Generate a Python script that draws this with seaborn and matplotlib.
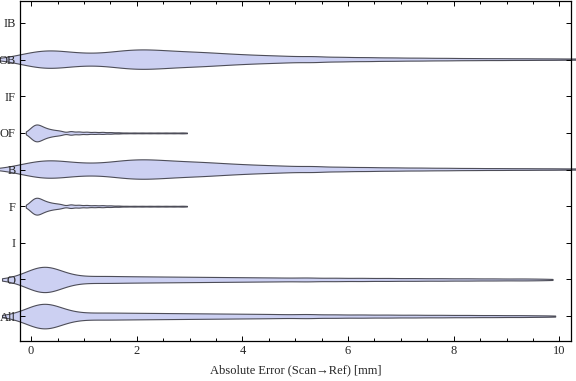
import numpy as np
import pandas as pd
import matplotlib
matplotlib.use('Agg')
import matplotlib.pyplot as plt
from matplotlib.ticker import MultipleLocator
import seaborn as sns

# categories top to bottom (I, IF, IB have no data)
groups = ['IB', 'OB', 'IF', 'OF', 'B', 'F', 'I', 'O', 'All']

# error values (mm) and how often they occur
all_vals = [-0.55, -0.4, -0.3, -0.2, -0.1, 0.0, 0.1, 0.2, 0.3, 0.4, 0.5, 0.6, 0.7, 0.8, 0.9, 1.0, 1.1, 1.2,
            1.375, 1.625, 1.875, 2.125, 2.375, 2.625, 2.875, 3.125, 3.375, 3.625, 3.875, 4.125, 4.375, 4.625, 4.875,
            5.25, 5.75, 6.25, 6.75, 7.25, 7.75, 8.25, 8.75, 9.25, 9.7, 9.92]
all_counts = [2, 2, 4, 8, 12, 17, 24, 30, 30, 24, 17, 12, 9, 7, 6, 6, 6, 6,
              16, 15, 15, 14, 14, 13, 13, 12, 12, 11, 11, 10, 10, 9, 9,
              17, 15, 14, 13, 12, 11, 10, 9, 8, 5, 2]

o_vals = [-0.55, -0.4, -0.3, -0.2, -0.1, 0.0, 0.1, 0.2, 0.3, 0.4, 0.5, 0.6, 0.7, 0.8, 0.9, 1.0, 1.1, 1.2,
          1.375, 1.625, 1.875, 2.125, 2.375, 2.625, 2.875, 3.125, 3.375, 3.625, 3.875, 4.125, 4.375, 4.625, 4.875,
          5.25, 5.75, 6.25, 6.75, 7.25, 7.75, 8.25, 8.75, 9.25, 9.65, 9.87]
o_counts = [2, 2, 4, 8, 12, 18, 25, 31, 31, 25, 18, 12, 9, 7, 6, 6, 6, 6,
            16, 15, 14, 14, 13, 13, 12, 12, 11, 11, 10, 10, 9, 9, 9,
            16, 15, 14, 13, 12, 11, 10, 9, 8, 5, 2]

b_vals = [-0.6, -0.5, -0.25, 0.0, 0.25, 0.5, 0.75, 1.0, 1.25, 1.5, 1.75, 2.0, 2.25, 2.5, 2.75, 3.0, 3.25,
          3.5, 3.75, 4.0, 4.25, 4.5, 4.75, 5.0,
          5.375, 5.875, 6.375, 6.875, 7.375, 7.875, 8.375, 8.875, 9.375, 9.875, 10.375, 10.6]
b_counts = [1, 5, 20, 35, 47, 44, 35, 30, 29, 35, 44, 49, 48, 44, 40, 37, 35,
            31, 27, 24, 21, 19, 17, 16,
            27, 22, 19, 16, 14, 12, 10, 9, 8, 7, 5, 2]

f_vals = [-0.1, -0.05, 0.0, 0.05, 0.1, 0.15, 0.2, 0.25, 0.3, 0.35, 0.4, 0.45, 0.5, 0.55, 0.6,
          0.75, 0.9, 1.05, 1.2, 1.35, 1.5, 1.65, 1.8, 1.95, 2.1, 2.25, 2.4, 2.55, 2.7, 2.85, 2.95]
f_counts = [1, 5, 10, 15, 17, 15, 12, 10, 8, 7, 6, 5, 5, 4, 4,
            9, 7, 6, 5, 5, 4, 3, 2, 2, 2, 2, 2, 2, 2, 2, 1]

samples = {
    'OB': (b_vals, b_counts),
    'OF': (f_vals, f_counts),
    'B': (b_vals, b_counts),
    'F': (f_vals, f_counts),
    'O': (o_vals, o_counts),
    'All': (all_vals, all_counts),
}

frames = []
for g, (vals, counts) in samples.items():
    frames.append(pd.DataFrame({'error': np.repeat(vals, counts), 'group': g}))
df = pd.concat(frames, ignore_index=True)

# violin size / smoothing per group
widths = {'OB': 0.53, 'OF': 0.46, 'B': 0.53, 'F': 0.46, 'O': 0.69, 'All': 0.67}
bandwidth = {'OB': 0.25, 'OF': 0.06, 'B': 0.25, 'F': 0.06, 'O': 0.24, 'All': 0.24}

sns.set_style('ticks')
plt.rcParams['font.family'] = ['Liberation Serif', 'DejaVu Serif']

fig = plt.figure(figsize=(5.76, 3.81), dpi=100)
ax = fig.add_axes([20 / 576, 40 / 381, 550.5 / 576, 340 / 381])

for g in samples:
    sub = df[df['group'] == g]
    sns.violinplot(data=sub, x='error', y='group', order=groups, orient='y',
                   cut=0, inner=None, density_norm='width', width=widths[g],
                   bw_method=bandwidth[g] / sub['error'].std(), gridsize=500,
                   color='#ccd0f2', saturation=1, linecolor='#4d4d58', linewidth=0.8, ax=ax)

for coll in ax.collections:
    coll.set_clip_on(False)

ax.set_axisbelow(False)
ax.set_xlim(-0.21, 10.21)
ax.set_ylim(8.68, -0.6)
ax.set_xticks(range(0, 11, 2))
ax.xaxis.set_minor_locator(MultipleLocator(0.5))
ax.set_yticks(range(len(groups)))
ax.set_yticklabels(groups)
ax.tick_params(axis='both', which='both', direction='in', top=True, right=True,
               labelsize=9, width=0.7, color='black')
ax.tick_params(axis='x', which='major', length=3.5, pad=3)
ax.tick_params(axis='x', which='minor', length=2)
ax.tick_params(axis='y', which='major', length=3.5, pad=3)
ax.tick_params(axis='y', which='minor', left=False, right=False)
for s in ax.spines.values():
    s.set_linewidth(0.9)
    s.set_color('black')

ax.set_xlabel('Absolute Error (Scan\u2192Ref) [mm]', fontsize=9, labelpad=5)
ax.set_ylabel('')

fig.savefig('out.png', dpi=100)
